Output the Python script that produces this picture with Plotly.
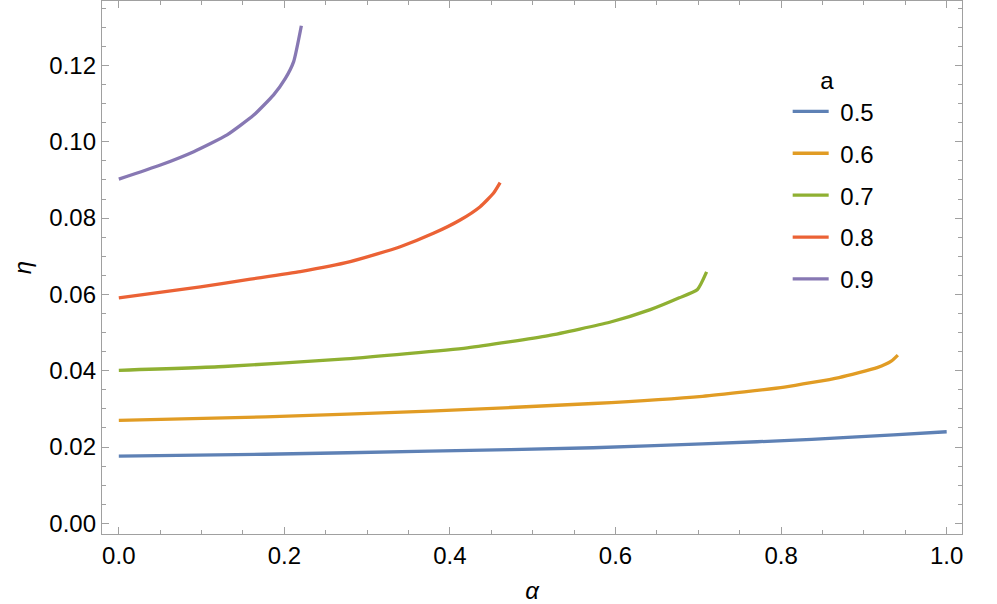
import plotly.graph_objects as go

# ---- data ----
a_values = ["0.5", "0.6", "0.7", "0.8", "0.9"]
colors = ["#5E81B5", "#E19C24", "#8FB032", "#EB6235", "#8778B3"]

alpha_05 = [0.0, 0.177, 0.375, 0.573, 0.705, 0.837, 0.936, 1.0]
eta_05 = [0.0176, 0.0181, 0.0189, 0.0198, 0.0208, 0.0220, 0.0232, 0.0240]

alpha_06 = [0.0, 0.177, 0.375, 0.573, 0.705, 0.804, 0.870, 0.916, 0.933, 0.941]
eta_06 = [0.0270, 0.0279, 0.0294, 0.0314, 0.0333, 0.0357, 0.0382, 0.0408, 0.0425, 0.0441]

alpha_07 = [0.0, 0.127, 0.274, 0.421, 0.519, 0.593, 0.642, 0.677, 0.699, 0.710]
eta_07 = [0.0401, 0.0411, 0.0431, 0.0460, 0.0492, 0.0527, 0.0560, 0.0591, 0.0613, 0.0659]

alpha_08 = [0.0, 0.0986, 0.159, 0.2193, 0.2796, 0.340, 0.380, 0.4123, 0.4365, 0.4525, 0.4606]
eta_08 = [0.0591, 0.0620, 0.0640, 0.0660, 0.0686, 0.0725, 0.0760, 0.0795, 0.0830, 0.0865, 0.0893]

alpha_09 = [0.0, 0.0503, 0.0905, 0.1308, 0.163, 0.187, 0.2012, 0.2112, 0.2205]
eta_09 = [0.0902, 0.0939, 0.0974, 0.1018, 0.1070, 0.1123, 0.1166, 0.1210, 0.1304]

series_alpha = [alpha_05, alpha_06, alpha_07, alpha_08, alpha_09]
series_eta = [eta_05, eta_06, eta_07, eta_08, eta_09]

x_ticks = [0.0, 0.2, 0.4, 0.6, 0.8, 1.0]
y_ticks = [0.00, 0.02, 0.04, 0.06, 0.08, 0.10, 0.12]

FONT = "Liberation Sans, Arial, sans-serif"
FRAME = "#a0a0a0"
NB = "\u00a0"

fig = go.Figure()
for i, (xs, ys) in enumerate(zip(series_alpha, series_eta)):
    fig.add_trace(go.Scatter(
        x=xs, y=ys, mode="lines", name=NB + a_values[i],
        line=dict(color=colors[i], width=3.3, shape="spline", smoothing=0.5),
        legendgroup=a_values[i],
    ))

axis_common = dict(
    showline=True, linecolor=FRAME, linewidth=1.3, mirror="ticks",
    ticks="inside", ticklen=7, tickwidth=1, tickcolor=FRAME,
    showgrid=False, zeroline=False, automargin=False,
    tickfont=dict(family=FONT, size=24, color="#000"),
)

fig.update_xaxes(
    range=[-0.0203, 1.0185], tickvals=x_ticks, tickformat=".1f",
    minor=dict(dtick=0.05, ticks="inside", ticklen=4, tickcolor=FRAME, showgrid=False),
    title=dict(text="<i>α</i>", font=dict(family=FONT, size=24, color="#000"), standoff=14),
    **axis_common,
)
fig.update_yaxes(
    range=[-0.0028, 0.1369], tickvals=y_ticks, tickformat=".2f",
    minor=dict(dtick=0.005, ticks="inside", ticklen=4, tickcolor=FRAME, showgrid=False),
    title=dict(text="<i>η</i>", font=dict(family=FONT, size=24, color="#000"), standoff=10),
    **axis_common,
)

fig.update_layout(
    width=997, height=604,
    margin=dict(l=102, r=35, t=1, b=70),
    plot_bgcolor="white", paper_bgcolor="white",
    font=dict(family=FONT, color="#000"),
    legend=dict(
        x=0.7973, y=0.893, xanchor="left", yanchor="top",
        title=dict(text="a" + NB * 2, side="top center", font=dict(family=FONT, size=24)),
        font=dict(family=FONT, size=24),
        tracegroupgap=7.7, bgcolor="rgba(0,0,0,0)",
        itemwidth=36,
    ),
)

fig.write_html("out.html", post_script="document.body.style.margin='0';",
               config={"displayModeBar": False})
